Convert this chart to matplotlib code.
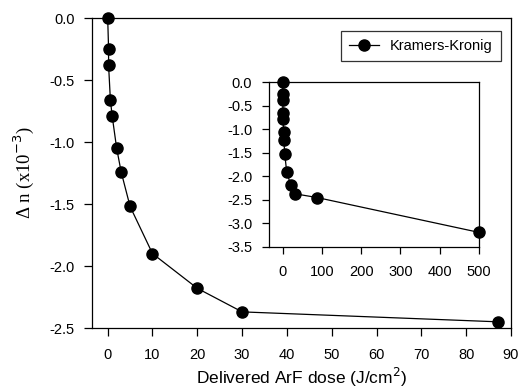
import matplotlib
matplotlib.use("Agg")
import matplotlib.pyplot as plt

# Data (Delta n in units of 1e-3)
dose_main = [0, 0.2, 0.2, 0.6, 1, 2, 3, 5, 10, 20, 30, 87]
dn_main = [0.0, -0.25, -0.38, -0.66, -0.79, -1.05, -1.24, -1.52, -1.90, -2.18, -2.37, -2.45]

dose_inset = [0, 0.2, 0.2, 0.6, 1, 2, 3, 5, 10, 20, 30, 87, 500]
dn_inset = [0.0, -0.25, -0.38, -0.66, -0.79, -1.05, -1.24, -1.52, -1.90, -2.18, -2.37, -2.45, -3.19]

main_xticks = [0, 10, 20, 30, 40, 50, 60, 70, 80, 90]
main_yticks = [0.0, -0.5, -1.0, -1.5, -2.0, -2.5]
inset_xticks = [0, 100, 200, 300, 400, 500]
inset_yticks = [0.0, -0.5, -1.0, -1.5, -2.0, -2.5, -3.0, -3.5]

plt.rcParams['font.family'] = ['Liberation Sans', 'DejaVu Sans']

W, H = 521, 392
fig = plt.figure(figsize=(W / 100, H / 100), dpi=100)

def rect(l, t, r, b):
    return [l / W, 1 - b / H, (r - l) / W, (b - t) / H]

ax = fig.add_axes(rect(92, 18, 511, 328))
ax.plot(dose_main, dn_main, color='black', lw=0.9, marker='o', ms=8,
        markerfacecolor='black', markeredgecolor='black', clip_on=False,
        label='Kramers-Kronig', zorder=3)
ax.set_xlim(-3.5, 90)
ax.set_ylim(-2.5, 0)
ax.set_xticks(main_xticks)
ax.set_yticks(main_yticks)
ax.set_xticklabels([str(v) for v in main_xticks])
ax.set_yticklabels([f"{v:.1f}" for v in main_yticks])
ax.tick_params(direction='out', length=6, width=0.9, labelsize=10.5)
ax.tick_params(axis='x', pad=8.5)
ax.tick_params(axis='y', pad=6.5)
for s in ax.spines.values():
    s.set_linewidth(0.9)
ax.set_xlabel('Delivered ArF dose (J/cm$^2$)', fontsize=12.5, labelpad=3)
ax.set_ylabel('Δ n (x10$^{-3}$)', fontsize=13.5, family=['Liberation Serif', 'DejaVu Serif'],
              labelpad=10)

leg = ax.legend(loc='upper right', bbox_to_anchor=(501 / W, 1 - 31 / H),
                bbox_transform=fig.transFigure, borderaxespad=0, fontsize=10.5,
                frameon=True, fancybox=False, edgecolor='black', borderpad=0.55,
                handlelength=2.0, handletextpad=0.8)
leg.get_frame().set_linewidth(0.9)

ins = fig.add_axes(rect(269, 82, 479, 247))
ins.plot(dose_inset, dn_inset, color='black', lw=0.9, marker='o', ms=8,
         markerfacecolor='black', markeredgecolor='black', clip_on=False, zorder=3)
ins.set_xlim(-35, 500)
ins.set_ylim(-3.5, 0)
ins.set_xticks(inset_xticks)
ins.set_yticks(inset_yticks)
ins.set_xticklabels([str(v) for v in inset_xticks])
ins.set_yticklabels([f"{v:.1f}" for v in inset_yticks])
ins.tick_params(direction='out', length=5, width=0.9, labelsize=10.5)
ins.tick_params(axis='x', pad=8)
ins.tick_params(axis='y', pad=7)
for s in ins.spines.values():
    s.set_linewidth(0.9)

fig.savefig('out.png', dpi=100)
